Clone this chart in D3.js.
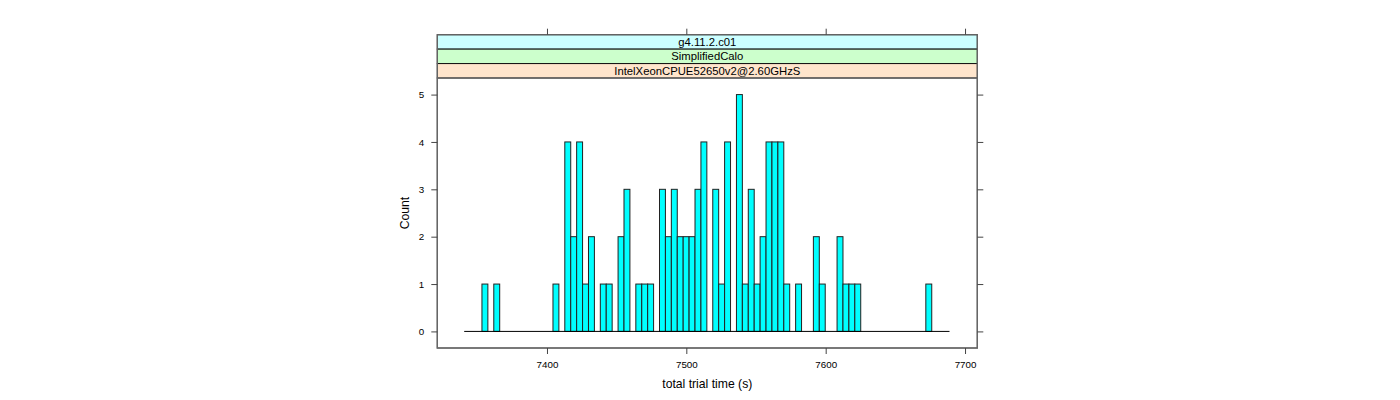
<!DOCTYPE html>
<html><head><meta charset="utf-8">
<script src="https://cdn.jsdelivr.net/npm/d3@7"></script>
<style>body{margin:0;background:#fff}svg{display:block}text{font-family:"Liberation Sans",Arial,Helvetica,sans-serif;fill:#000}</style>
</head><body>
<script>
// ---- data ----
const stripLabels = ["g4.11.2.c01", "SimplifiedCalo", "IntelXeonCPUE52650v2@2.60GHzS"];
const stripColors = ["#CCFFFF", "#CCFFCC", "#FFE5CC"];
const binStart = 7340.6;
const binWidth = 4.247;
// counts per bin (82 bins)
const counts = [0,0,0,1,0,1,0,0,0,0, 0,0,0,0,0,1,0,4,2,4, 1,2,0,1,1,0,2,3,0,1, 1,1,0,3,2,3,2,2,2,3, 4,0,3,1,4,0,5,1,3,1, 2,4,4,4,1,0,1,0,0,2, 1,0,0,2,1,1,1,0,0,0, 0,0,0,0,0,0,0,0,1,0, 0,0];
const xTicks = [7400, 7500, 7600, 7700];
const yTicks = [0, 1, 2, 3, 4, 5];
const xLabel = "total trial time (s)";
const yLabel = "Count";

// ---- layout ----
const W = 1400, H = 400;
const L = 437.3, R = 977.3, T = 78, B = 348, stripTop = 34.7, stripH = (T - stripTop) / 3;
const svg = d3.select("body").append("svg").attr("width", W).attr("height", H);

const x = d3.scaleLinear().domain([7321.3, 7708.8]).range([L, R]);
const y = d3.scaleLinear().domain([-0.35, 5.35]).range([B, T]);

const bins = counts.map((c, i) => ({x0: binStart + i * binWidth, x1: binStart + (i + 1) * binWidth, c}));

// bars
svg.append("g").selectAll("rect").data(bins.filter(b => b.c > 0)).join("rect")
  .attr("x", d => x(d.x0)).attr("width", d => x(d.x1) - x(d.x0))
  .attr("y", d => y(d.c)).attr("height", d => y(0) - y(d.c))
  .attr("fill", "#00FFFF").attr("stroke", "#222").attr("stroke-width", 1);

// baseline
svg.append("line").attr("x1", x(bins[0].x0)).attr("x2", x(bins[bins.length - 1].x1))
  .attr("y1", y(0)).attr("y2", y(0)).attr("stroke", "#000").attr("stroke-width", 1);

// strips
const sg = svg.append("g");
stripLabels.forEach((s, i) => {
  const top = stripTop + i * stripH;
  sg.append("rect").attr("x", L).attr("y", top).attr("width", R - L).attr("height", stripH)
    .attr("fill", stripColors[i]).attr("stroke", "#111").attr("stroke-width", 1);
  sg.append("text").attr("x", (L + R) / 2).attr("y", top + stripH / 2 + 4)
    .attr("text-anchor", "middle").attr("font-size", "11.3px").text(s);
});

// panel border
svg.append("rect").attr("x", L).attr("y", T).attr("width", R - L).attr("height", B - T)
  .attr("fill", "none").attr("stroke", "#666").attr("stroke-width", 1.3);
svg.append("rect").attr("x", L).attr("y", stripTop).attr("width", R - L).attr("height", B - stripTop)
  .attr("fill", "none").attr("stroke", "#666").attr("stroke-width", 1.3);

// axes
const axStyle = g => {
  g.select(".domain").remove();
  g.selectAll(".tick line").attr("stroke", "#444");
  g.selectAll(".tick text").attr("font-size", "9.8px").attr("font-family", "Liberation Sans, Arial, sans-serif").attr("fill", "#000");
};
svg.append("g").attr("transform", `translate(0,${B})`)
  .call(d3.axisBottom(x).tickValues(xTicks).tickFormat(d3.format("d")).tickSizeOuter(0).tickSize(6).tickPadding(7)).call(axStyle);
svg.append("g").attr("transform", `translate(0,${stripTop})`)
  .call(d3.axisTop(x).tickValues(xTicks).tickFormat("").tickSizeOuter(0).tickSize(6)).call(axStyle);
svg.append("g").attr("transform", `translate(${L},0)`)
  .call(d3.axisLeft(y).tickValues(yTicks).tickFormat(d3.format("d")).tickSizeOuter(0).tickSize(6).tickPadding(7)).call(axStyle);
svg.append("g").attr("transform", `translate(${R},0)`)
  .call(d3.axisRight(y).tickValues(yTicks).tickFormat("").tickSizeOuter(0).tickSize(6)).call(axStyle);

// axis titles
svg.append("text").attr("x", (L + R) / 2).attr("y", 388).attr("text-anchor", "middle")
  .attr("font-size", "12.2px").text(xLabel);
svg.append("text").attr("transform", `translate(409,${(T + B) / 2}) rotate(-90)`)
  .attr("text-anchor", "middle").attr("font-size", "12.2px").text(yLabel);
</script>
</body></html>
